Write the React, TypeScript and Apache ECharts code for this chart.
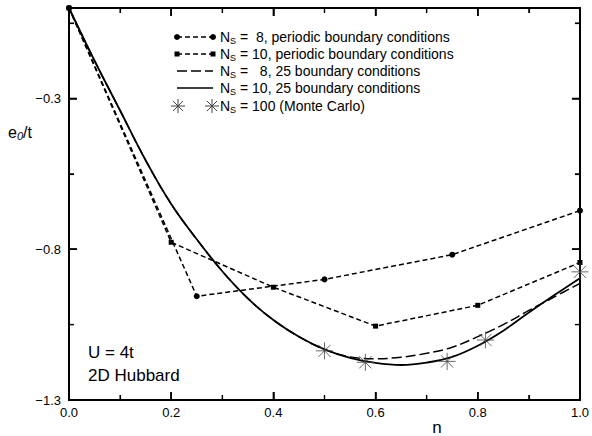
import React, { useEffect, useRef } from 'react';
import * as echarts from 'echarts';

// ---- data ----
const nPeriodic8 = [0, 0.25, 0.5, 0.75, 1.0];
const ePeriodic8 = [0, -0.956, -0.9, -0.818, -0.672];

const nPeriodic10 = [0, 0.2, 0.4, 0.6, 0.8, 1.0];
const ePeriodic10 = [0, -0.777, -0.926, -1.055, -0.986, -0.844];

const nTwisted = [0, 0.05, 0.1, 0.15, 0.2, 0.25, 0.3, 0.35, 0.4, 0.45, 0.5, 0.55, 0.6, 0.65, 0.7, 0.75, 0.8, 0.85, 0.9, 0.95, 1.0];
const eTwisted8 = [0, -0.175, -0.34, -0.505, -0.65, -0.767, -0.873, -0.963, -1.035, -1.09, -1.132, -1.157, -1.163, -1.158, -1.145, -1.125, -1.09, -1.05, -1.003, -0.958, -0.913];
const eTwisted10 = [0, -0.175, -0.34, -0.505, -0.65, -0.767, -0.873, -0.963, -1.035, -1.09, -1.132, -1.16, -1.177, -1.184, -1.176, -1.157, -1.12, -1.07, -1.01, -0.952, -0.896];

const nMonteCarlo = [0.5, 0.58, 0.74, 0.815, 1.0];
const eMonteCarlo = [-1.137, -1.175, -1.172, -1.101, -0.875];

// tick values
const xMajorTicks = [0, 0.2, 0.4, 0.6, 0.8, 1.0];
const xMinorTicks = [0.1, 0.3, 0.5, 0.7, 0.9];
const yMajorTicks = [-1.3, -0.8, -0.3];
const yMinorTicks = [-1.05, -0.55, -0.05];

const legendRows = [
  { count: '  8', rest: ', periodic boundary conditions' },
  { count: ' 10', rest: ', periodic boundary conditions' },
  { count: '   8', rest: ', 25 boundary conditions' },
  { count: ' 10', rest: ', 25 boundary conditions' },
  { count: ' 100', rest: ' (Monte Carlo)' },
];

const FONT = '"Liberation Sans", Arial, Helvetica, sans-serif';
const STAR = 'path://M7,0L7,14M0,7L14,7M2,2L12,12M2,12L12,2';

const pairs = (xs: number[], ys: number[]) => xs.map((x, i) => [x, ys[i]]);

function starGroup(cx: number, cy: number, r: number) {
  const d = r * 0.72;
  const seg = (x1: number, y1: number, x2: number, y2: number) => ({
    type: 'line',
    shape: { x1: cx + x1, y1: cy + y1, x2: cx + x2, y2: cy + y2 },
    style: { stroke: '#444', lineWidth: 1 },
  });
  return {
    type: 'group',
    children: [seg(-r, 0, r, 0), seg(0, -r, 0, r), seg(-d, -d, d, d), seg(-d, d, d, -d)],
  };
}

const fmt = (v: number) => v.toFixed(1).replace('-', '\u2212');

function makeAxis(position: string, min: number, max: number, interval: number, showLabel: boolean, margin: number) {
  return {
    type: 'value',
    position,
    min,
    max,
    interval,
    axisLine: { show: true, onZero: false, lineStyle: { color: '#000', width: 2 } },
    axisTick: { show: true, inside: true, length: 8, lineStyle: { color: '#000', width: 1.5 } },
    minorTick: { show: true, splitNumber: 2, length: 5, lineStyle: { color: '#000', width: 1.2 } },
    splitLine: { show: false },
    axisLabel: showLabel
      ? { show: true, formatter: fmt, color: '#000', fontSize: 13, fontFamily: FONT, margin, showMaxLabel: position === 'left' ? false : true }
      : { show: false },
  };
}

export default function App() {
  const ref = useRef<HTMLDivElement>(null);
  useEffect(() => {
    document.body.style.margin = '0';
    document.body.style.overflow = 'hidden';
    const chart = echarts.init(ref.current!, undefined, { renderer: 'svg' });

    const sx0 = 177, sx1 = 213;
    const rowsY = [37, 54, 71, 88, 106];
    const graphics: any[] = [];
    graphics.push({ type: 'line', shape: { x1: sx0, y1: rowsY[0], x2: sx1, y2: rowsY[0] }, style: { stroke: '#000', lineWidth: 1.5, lineDash: [5, 3] } });
    graphics.push({ type: 'circle', shape: { cx: sx0, cy: rowsY[0], r: 3 }, style: { fill: '#000' } });
    graphics.push({ type: 'circle', shape: { cx: sx1, cy: rowsY[0], r: 3 }, style: { fill: '#000' } });
    graphics.push({ type: 'line', shape: { x1: sx0, y1: rowsY[1], x2: sx1, y2: rowsY[1] }, style: { stroke: '#000', lineWidth: 1.5, lineDash: [5, 3] } });
    graphics.push({ type: 'rect', shape: { x: sx0 - 2.5, y: rowsY[1] - 2.5, width: 5, height: 5 }, style: { fill: '#000' } });
    graphics.push({ type: 'rect', shape: { x: sx1 - 2.5, y: rowsY[1] - 2.5, width: 5, height: 5 }, style: { fill: '#000' } });
    graphics.push({ type: 'line', shape: { x1: sx0, y1: rowsY[2], x2: sx1, y2: rowsY[2] }, style: { stroke: '#000', lineWidth: 1.5, lineDash: [10, 4] } });
    graphics.push({ type: 'line', shape: { x1: sx0, y1: rowsY[3], x2: sx1, y2: rowsY[3] }, style: { stroke: '#000', lineWidth: 1.6 } });
    graphics.push(starGroup(sx0 + 1, rowsY[4], 7));
    graphics.push(starGroup(sx1 - 1, rowsY[4], 7));
    legendRows.forEach((r, i) => {
      graphics.push({
        type: 'text',
        x: 220,
        y: rowsY[i],
        style: {
          text: `{n|N}{s|S}{t| =${r.count}${r.rest}}`,
          rich: {
            n: { fontSize: 14, lineHeight: 16, fontFamily: FONT, fill: '#000' },
            s: { fontSize: 9, lineHeight: 9, fontFamily: FONT, fill: '#000', verticalAlign: 'bottom' },
            t: { fontSize: 14, lineHeight: 16, fontFamily: FONT, fill: '#000' },
          },
          fontFamily: FONT,
          verticalAlign: 'middle',
          align: 'left',
        },
      });
    });
    graphics.push({ type: 'text', x: 88, y: 352, style: { text: 'U = 4t', fontSize: 17, fontFamily: FONT, fill: '#000', verticalAlign: 'middle' } });
    graphics.push({ type: 'text', x: 88, y: 375, style: { text: '2D Hubbard', fontSize: 17, fontFamily: FONT, fill: '#000', verticalAlign: 'middle' } });
    graphics.push({
      type: 'text', x: 8, y: 132,
      style: {
        text: '{e|e}{s|0}{t|/t}',
        rich: {
          e: { fontSize: 16, lineHeight: 18, fontFamily: FONT, fill: '#000' },
          s: { fontSize: 11, lineHeight: 11, fontFamily: FONT, fill: '#000', fontStyle: 'italic', verticalAlign: 'bottom' },
          t: { fontSize: 16, lineHeight: 18, fontFamily: FONT, fill: '#000' },
        },
        verticalAlign: 'middle', align: 'left',
      },
    });
    graphics.push({ type: 'text', x: 437, y: 427, style: { text: 'n', fontSize: 17, fontFamily: FONT, fill: '#000', align: 'center', verticalAlign: 'middle' } });

    chart.setOption({
      animation: false,
      grid: { left: 69, right: 9, top: 8, bottom: 36 },
      xAxis: [
        makeAxis('bottom', 0, 1, 0.2, true, 6),
        makeAxis('top', 0, 1, 0.2, false, 6),
      ],
      yAxis: [
        makeAxis('left', -1.3, 0, 0.5, true, 8),
        makeAxis('right', -1.3, 0, 0.5, false, 8),
      ],
      series: [
        {
          type: 'line', data: pairs(nPeriodic8, ePeriodic8), symbol: 'circle', symbolSize: 6, clip: false,
          lineStyle: { color: '#000', width: 1.5, type: [5, 3] }, itemStyle: { color: '#000' }, z: 3,
        },
        {
          type: 'line', data: pairs(nPeriodic10, ePeriodic10), symbol: 'rect', symbolSize: 5, clip: false,
          lineStyle: { color: '#000', width: 1.5, type: [5, 3] }, itemStyle: { color: '#000' }, z: 3,
        },
        {
          type: 'line', data: pairs(nTwisted, eTwisted8), symbol: 'none', smooth: 0.4,
          lineStyle: { color: '#000', width: 1.5, type: [10, 4] }, z: 2,
        },
        {
          type: 'line', data: pairs(nTwisted, eTwisted10), symbol: 'none', smooth: 0.4,
          lineStyle: { color: '#000', width: 1.8 }, z: 2,
        },
        {
          type: 'scatter', data: pairs(nMonteCarlo, eMonteCarlo), symbol: STAR, symbolSize: 17, clip: false,
          itemStyle: { color: '#444', borderColor: '#444', borderWidth: 1 }, z: 4,
        },
      ],
      graphic: graphics,
    });

    // extra ticks on all four sides, placed through the chart's own scales
    try {
      const toPx = (x: number, y: number) => chart.convertToPixel({ xAxisIndex: 0, yAxisIndex: 0 } as any, [x, y]) as number[];
      const p0 = toPx(0, -1.3);
      const p1 = toPx(1, 0);
      if (p0 && p1) {
        const [gx0, gy0] = p0;
        const [gx1, gy1] = p1;
        const tickStyle = (w: number) => ({ stroke: '#000', lineWidth: w });
        const ticks: any[] = [];
        const addX = (v: number, len: number, w: number) => {
          const px = toPx(v, -1.3)[0];
          ticks.push({ type: 'line', shape: { x1: px, y1: gy0, x2: px, y2: gy0 - len }, style: tickStyle(w), z: 10 });
          ticks.push({ type: 'line', shape: { x1: px, y1: gy1, x2: px, y2: gy1 + len }, style: tickStyle(w), z: 10 });
        };
        const addY = (v: number, len: number, w: number) => {
          const py = toPx(0, v)[1];
          ticks.push({ type: 'line', shape: { x1: gx0, y1: py, x2: gx0 + len, y2: py }, style: tickStyle(w), z: 10 });
          ticks.push({ type: 'line', shape: { x1: gx1, y1: py, x2: gx1 - len, y2: py }, style: tickStyle(w), z: 10 });
        };
        xMajorTicks.forEach((v) => addX(v, 8, 1.5));
        xMinorTicks.forEach((v) => addX(v, 5, 1.2));
        yMajorTicks.forEach((v) => addY(v, 8, 1.5));
        yMinorTicks.forEach((v) => addY(v, 5, 1.2));
        chart.setOption({ graphic: [...graphics, ...ticks] });
      }
    } catch (e) {
      // ignore
    }

    return () => chart.dispose();
  }, []);
  return <div ref={ref} style={{ width: 592, height: 436 }} />;
}
